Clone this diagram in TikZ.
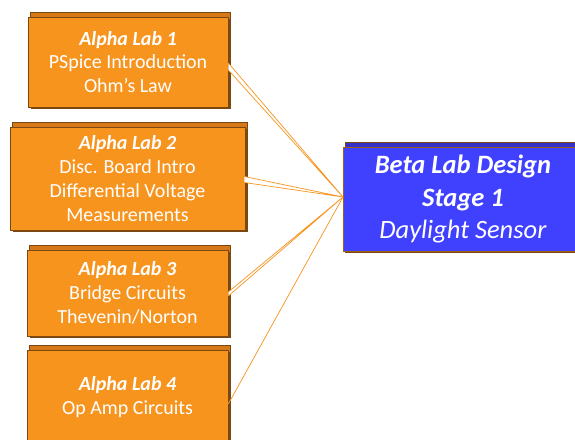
\documentclass[tikz,border=0pt]{standalone}
\usepackage{fontspec}
\setmainfont{Carlito}
\usetikzlibrary{shadows}
\definecolor{boxorange}{RGB}{247,148,30}
\definecolor{boxedge}{RGB}{122,72,16}
\definecolor{backorange}{RGB}{214,120,24}
\definecolor{betablue}{RGB}{64,64,255}
\definecolor{backblue}{RGB}{52,48,200}
\tikzset{
  alphabox/.style={rectangle, fill=boxorange, draw=boxedge, line width=0.6pt,
    text=white, align=center, inner sep=0pt,
    font=\fontsize{20}{23.8}\selectfont,
    general shadow={shadow xshift=2pt, shadow yshift=4.5pt, fill=backorange, draw=boxedge, line width=0.6pt},
    general shadow={shadow xshift=3pt, shadow yshift=-2pt, fill=boxedge, draw=none}},
  betabox/.style={rectangle, fill=betablue, draw=boxedge!70!boxorange, line width=0.8pt,
    text=white, align=center, inner sep=0pt,
    font=\fontsize{26.5}{32.5}\selectfont,
    general shadow={shadow xshift=2pt, shadow yshift=4.5pt, fill=backblue, draw=boxedge, line width=0.6pt},
    general shadow={shadow xshift=2pt, shadow yshift=-2pt, fill=boxedge, draw=none}},
  conn/.style={draw=boxorange, line width=0.7pt, fill=white, line join=miter}
}
\begin{document}
\begin{tikzpicture}[x=1pt,y=-1pt]
\useasboundingbox (0,0) rectangle (575,439);
\clip (0,0) rectangle (575,439);
\node[alphabox, minimum width=200pt, minimum height=90pt] (b1) at (128,62)
  {\textbf{\textit{Alpha Lab 1}}\\PSpice Introduction\\Ohm’s Law};
\node[alphabox, minimum width=235pt, minimum height=103pt] (b2) at (127.5,178.5)
  {\textbf{\textit{Alpha Lab 2}}\\Disc. Board Intro\\Differential Voltage\\Measurements};
\node[alphabox, minimum width=201pt, minimum height=86pt] (b3) at (127.5,293)
  {\textbf{\textit{Alpha Lab 3}}\\Bridge Circuits\\Thevenin/Norton};
\node[alphabox, minimum width=201pt, minimum height=94pt] (b4) at (127.5,397)
  {\textbf{\textit{Alpha Lab 4}}\\Op Amp Circuits};
\node[betabox, minimum width=240pt, minimum height=104pt] (beta) at (463,199)
  {\textbf{\textit{Beta Lab Design}}\\\textbf{\textit{Stage 1}}\\\textit{Daylight Sensor}};
\coordinate (c) at (343,197);
\draw[conn] ([yshift=-1pt]b1.east) -- (c) -- ([yshift=-8pt]b1.east);
\draw[conn] ([xshift=-1pt,yshift=-4pt]b2.east) -- (c) -- ([xshift=-1pt,yshift=2pt]b2.east);
\draw[conn] ([yshift=-3pt]b3.east) -- (c) -- ([yshift=1pt]b3.east);
\draw[conn] ([yshift=-7pt]b4.east) -- (c);
\end{tikzpicture}
\end{document}
